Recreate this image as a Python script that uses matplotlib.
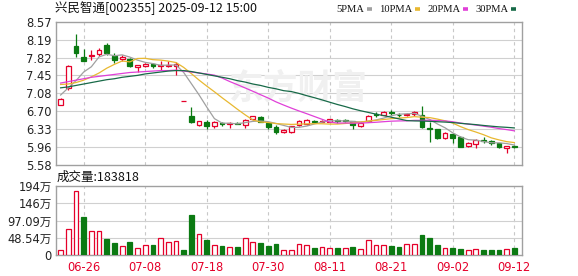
import numpy as np
import pandas as pd
import matplotlib
matplotlib.use("Agg")
import matplotlib.pyplot as plt
from matplotlib.lines import Line2D

# ---------------- data ----------------
title = "兴民智通[002355] 2025-09-12 15:00"
dates = pd.bdate_range("2025-06-23", "2025-09-12")
tick_labels = ["06-26", "07-08", "07-18", "07-30", "08-11", "08-21", "09-02", "09-12"]

opens = [6.84, 7.18, 8.06, 7.84, 7.85, 7.90, 8.09, 7.86, 7.80, 7.80,
         7.62, 7.65, 7.69, 7.64, 7.65, 7.65, 6.91, 6.60, 6.41, 6.48,
         6.40, 6.46, 6.43, 6.46, 6.41, 6.53, 6.59, 6.45, 6.37, 6.26,
         6.27, 6.41, 6.43, 6.50, 6.48, 6.48, 6.52, 6.51, 6.49, 6.39,
         6.49, 6.64, 6.63, 6.69, 6.63, 6.62, 6.65, 6.62, 6.35, 6.33,
         6.15, 6.22, 6.17, 5.97, 6.01, 6.11, 6.09, 6.03, 5.94, 5.97]
highs = [6.97, 7.66, 8.32, 8.00, 7.97, 8.02, 8.12, 7.91, 7.88, 7.81,
         7.67, 7.71, 7.71, 7.76, 7.74, 7.72, 6.91, 6.79, 6.50, 6.51,
         6.50, 6.48, 6.47, 6.47, 6.55, 6.61, 6.61, 6.48, 6.41, 6.33,
         6.40, 6.51, 6.53, 6.52, 6.52, 6.55, 6.54, 6.53, 6.50, 6.48,
         6.62, 6.69, 6.70, 6.72, 6.67, 6.67, 6.70, 6.81, 6.47, 6.34,
         6.27, 6.24, 6.19, 6.05, 6.13, 6.17, 6.11, 6.04, 5.98, 6.00]
lows = [6.83, 7.14, 7.83, 7.75, 7.78, 7.86, 7.88, 7.71, 7.76, 7.62,
        7.53, 7.63, 7.60, 7.57, 7.62, 7.45, 6.91, 6.46, 6.40, 6.34,
        6.36, 6.40, 6.35, 6.43, 6.35, 6.52, 6.48, 6.34, 6.22, 6.25,
        6.24, 6.40, 6.42, 6.46, 6.47, 6.47, 6.46, 6.47, 6.34, 6.38,
        6.48, 6.58, 6.62, 6.62, 6.58, 6.60, 6.61, 6.36, 6.05, 6.13,
        6.12, 6.04, 5.95, 5.96, 5.93, 6.03, 6.00, 5.94, 5.84, 5.93]
closes = [6.95, 7.65, 7.92, 7.75, 7.88, 7.98, 7.92, 7.77, 7.84, 7.65,
          7.66, 7.69, 7.64, 7.66, 7.67, 7.68, 6.91, 6.47, 6.49, 6.40,
          6.47, 6.44, 6.45, 6.44, 6.52, 6.60, 6.48, 6.38, 6.26, 6.31,
          6.39, 6.49, 6.51, 6.48, 6.50, 6.53, 6.49, 6.50, 6.41, 6.46,
          6.60, 6.63, 6.69, 6.66, 6.62, 6.64, 6.68, 6.38, 6.33, 6.15,
          6.24, 6.15, 5.96, 6.04, 6.11, 6.08, 6.03, 5.95, 5.97, 5.95]
# volume in 万 (hand)
volumes = [14, 72, 180, 108, 68, 68, 45, 35, 25, 37,
           19, 28, 28, 47, 37, 39, 14, 113, 59, 42,
           28, 25, 22, 22, 47, 37, 35, 25, 31, 14,
           14, 30, 28, 20, 22, 19, 20, 20, 22, 17,
           42, 28, 28, 25, 22, 31, 31, 56, 48, 28,
           20, 20, 17, 14, 17, 14, 14, 14, 17, 18.3818]

# moving average values at the start of the window (earlier history not shown)
ma5_head = [7.04, 7.19, 7.34, 7.52]
ma10_head = [7.26, 7.27, 7.30, 7.35, 7.42, 7.50, 7.60, 7.68, 7.75]
ma20_head = [7.29, 7.32, 7.35, 7.38, 7.41, 7.43, 7.45, 7.47, 7.49, 7.51,
             7.52, 7.53, 7.54, 7.55, 7.55, 7.56, 7.54, 7.52, 7.50]
ma30_head = [7.19, 7.21, 7.24, 7.27, 7.30, 7.33, 7.36, 7.38, 7.41, 7.43,
             7.45, 7.48, 7.50, 7.52, 7.54, 7.55, 7.55, 7.53, 7.50, 7.47,
             7.44, 7.41, 7.38, 7.34, 7.31, 7.27, 7.24, 7.20, 7.17]

price_ticks = ["5.58", "5.96", "6.33", "6.70", "7.08", "7.45", "7.82", "8.19", "8.57"]
vol_ticks = [0, 48.54, 97.09, 145.6, 194.2]
vol_tick_labels = ["0", "48.54万", "97.09万", "146万", "194万"]
last_volume_text = "成交量:183818"

ma_names = ["5PMA", "10PMA", "20PMA", "30PMA"]
ma_colors = ["#a0a0a0", "#e8b830", "#e040d8", "#186a48"]

# ---------------- build ----------------
RED = "#e5002a"
GREEN = "#0b7a12"
CJK = ["Noto Sans CJK SC", "DejaVu Sans"]
NUM = ["DejaVu Sans", "Noto Sans CJK SC"]

n = len(closes)
x = np.arange(n)
o = np.array(opens); h = np.array(highs); l = np.array(lows); c = np.array(closes)
cs = pd.Series(closes)

def ma(win, head):
    m = cs.rolling(win).mean().to_numpy()
    m[:len(head)] = head
    return m

mas = [ma(5, ma5_head), ma(10, ma10_head), ma(20, ma20_head), ma(30, ma30_head)]

fig = plt.figure(figsize=(5.78, 2.76), dpi=100)
W, H = 578, 276
def box(x0, y0, x1, y1):
    return [x0 / W, 1 - y1 / H, (x1 - x0) / W, (y1 - y0) / H]

ax = fig.add_axes(box(56, 21.7, 522, 165))
axv = fig.add_axes(box(56, 186, 522, 255))

xlim = (-0.6, 60.0)
date_strs = [d.strftime("%m-%d") for d in dates]
tick_pos = [date_strs.index(t) for t in tick_labels]

for a in (ax, axv):
    a.set_xlim(*xlim)
    for s in a.spines.values():
        s.set_color("#a0a0a0")
        s.set_linewidth(1.0)
    a.tick_params(axis="both", length=0, pad=3)
    for p in tick_pos:
        a.axvline(p, color="#c8c8c8", lw=0.8, ls=(0, (3, 3)), zorder=0)

# price panel
ymin, ymax = 5.58, 8.57
ax.set_ylim(ymin, ymax)
ytick_pos = np.linspace(ymin, ymax, len(price_ticks))
ax.set_yticks(ytick_pos)
ax.set_yticklabels(price_ticks, fontsize=8.3, color="#222222", family=NUM)
for yp in ytick_pos[1:-1]:
    ax.axhline(yp, color="#d0d0d0", lw=0.8, zorder=0)
ax.set_xticks([])

# watermark
ax.text(0.52, 0.54, "东方财富", transform=ax.transAxes, fontsize=25,
        color="#f0f0f0", family=CJK, ha="center", va="center", zorder=0,
        fontweight="bold")

up = c >= o
bw = 0.62
colors = np.where(up, RED, GREEN)
ax.vlines(x, l, h, colors=colors, lw=0.9, zorder=2)
body_bottom = np.minimum(o, c)
body_h = np.maximum(np.abs(c - o), 0.006)
ax.bar(x[up], body_h[up], bw, bottom=body_bottom[up], facecolor="white",
       edgecolor=RED, lw=0.9, zorder=3)
ax.bar(x[~up], body_h[~up], bw, bottom=body_bottom[~up], facecolor=GREEN,
       edgecolor=GREEN, lw=0.9, zorder=3)

for m, col in zip(mas, ma_colors):
    ax.plot(x, m, color=col, lw=0.9, zorder=4)

# volume panel
prev = np.concatenate([[c[0] - 1], c[:-1]])
vup = c >= prev
vols = np.array(volumes)
axv.set_ylim(0, vol_ticks[-1])
axv.set_yticks(vol_ticks)
axv.set_yticklabels(vol_tick_labels, fontsize=8.3, color="#222222", family=NUM)
for yp in vol_ticks[1:-1]:
    axv.axhline(yp, color="#d0d0d0", lw=0.8, zorder=0)
axv.bar(x[vup], vols[vup], bw, facecolor="white", edgecolor=RED, lw=0.9, zorder=3)
axv.bar(x[~vup], vols[~vup], bw, facecolor=GREEN, edgecolor=GREEN, lw=0.9, zorder=3)
axv.set_xticks(tick_pos)
axv.set_xticklabels(tick_labels, fontsize=8.3, color=RED, family=NUM)
axv.tick_params(axis="x", pad=4)

# texts
fig.text(55 / W, 1 - 8.5 / H, title, fontsize=9, family=CJK, color="#111111",
         ha="left", va="center")
fig.text(57 / W, 1 - 177 / H, last_volume_text, fontsize=9, family=CJK,
         color="#111111", ha="left", va="center")

# legend laid out left to right, measured so markers never overlap the names
renderer = fig.canvas.get_renderer()
cur = 336.0
ly = 1 - 9 / H
for name, col in zip(ma_names, ma_colors):
    t = fig.text(cur / W, ly, name, fontsize=7.6, family="Liberation Serif",
                 color="#111111", ha="left", va="center")
    wpx = t.get_window_extent(renderer).width
    mx = cur + wpx + 3
    fig.add_artist(Line2D([mx / W, (mx + 5) / W], [ly, ly],
                          color=col, lw=2.6, solid_capstyle="butt"))
    cur = mx + 5 + 7

fig.savefig("out.png", dpi=100)
